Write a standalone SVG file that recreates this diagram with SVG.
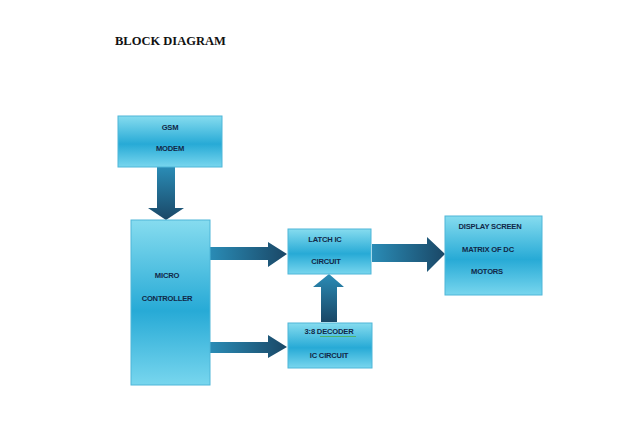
<svg xmlns="http://www.w3.org/2000/svg" width="620" height="427" viewBox="0 0 620 427">
<defs>
<linearGradient id="box" x1="0" y1="0" x2="0" y2="1">
<stop offset="0" stop-color="#86dcef"/>
<stop offset="0.55" stop-color="#27aad6"/>
<stop offset="1" stop-color="#78d6ee"/>
</linearGradient>
<linearGradient id="aR1" gradientUnits="userSpaceOnUse" x1="210" y1="0" x2="287" y2="0">
<stop offset="0" stop-color="#2a8cb6"/><stop offset="1" stop-color="#1a4766"/>
</linearGradient>
<linearGradient id="aR2" gradientUnits="userSpaceOnUse" x1="210" y1="0" x2="287" y2="0">
<stop offset="0" stop-color="#2a8cb6"/><stop offset="1" stop-color="#1a4766"/>
</linearGradient>
<linearGradient id="aR3" gradientUnits="userSpaceOnUse" x1="372" y1="0" x2="445" y2="0">
<stop offset="0" stop-color="#2a8cb6"/><stop offset="1" stop-color="#1a4766"/>
</linearGradient>
<linearGradient id="aD" gradientUnits="userSpaceOnUse" x1="0" y1="167" x2="0" y2="220">
<stop offset="0" stop-color="#2a8cb6"/><stop offset="1" stop-color="#1a4766"/>
</linearGradient>
<linearGradient id="aU" gradientUnits="userSpaceOnUse" x1="0" y1="322" x2="0" y2="274">
<stop offset="0" stop-color="#1a4766"/><stop offset="1" stop-color="#2a8cb6"/>
</linearGradient>
</defs>
<style>
.box{fill:url(#box);stroke:#4fb6d8;stroke-width:1}
.t{font-family:"Liberation Sans","Open Sans",Arial,sans-serif;font-size:7.6px;font-weight:bold;letter-spacing:-0.2px;fill:#112848;text-anchor:middle}
.title{font-family:"Liberation Serif","Times New Roman",serif;font-size:12.5px;font-weight:bold;fill:#111}
</style>
<rect width="620" height="427" fill="#ffffff"/>
<text class="title" x="115" y="45">BLOCK DIAGRAM</text>
<g id="connectors">
<polygon points="157,167 175,167 175,208 184,208 166,220 148,208 157,208" fill="url(#aD)"/>
<polygon points="210,247 268,247 268,242 287,254 268,267 268,260 210,260" fill="url(#aR1)"/>
<polygon points="210,342 268,342 268,335 287,347 268,358 268,353 210,353" fill="url(#aR2)"/>
<polygon points="321,322 321,287 313,287 329,274 344,287 337,287 337,322" fill="url(#aU)"/>
<polygon points="372,244 427,244 427,237 445,254 427,272 427,262 372,262" fill="url(#aR3)"/>
</g>
<g id="gsm">
<rect class="box" x="118" y="116" width="104" height="51"/>
<text class="t" x="170" y="130">GSM</text>
<text class="t" x="170" y="151">MODEM</text>
</g>
<g id="micro">
<rect class="box" x="131" y="220" width="79" height="165"/>
<text class="t" x="167" y="278">MICRO</text>
<text class="t" x="167" y="301">CONTROLLER</text>
</g>
<g id="latch">
<rect class="box" x="288" y="229" width="83" height="45"/>
<text class="t" x="325" y="242">LATCH IC</text>
<text class="t" x="326" y="264">CIRCUIT</text>
</g>
<g id="decoder">
<rect class="box" x="288" y="323" width="84" height="45"/>
<text class="t" x="329" y="334">3:8 DECODER</text>
<line x1="320" y1="336.5" x2="356" y2="336.5" stroke="#4caf50" stroke-width="0.8"/>
<text class="t" x="329" y="358">IC CIRCUIT</text>
</g>
<g id="display">
<rect class="box" x="445" y="216" width="97" height="79"/>
<text class="t" x="490" y="229">DISPLAY SCREEN</text>
<text class="t" x="488" y="252">MATRIX OF DC</text>
<text class="t" x="487" y="274">MOTORS</text>
</g>
</svg>
